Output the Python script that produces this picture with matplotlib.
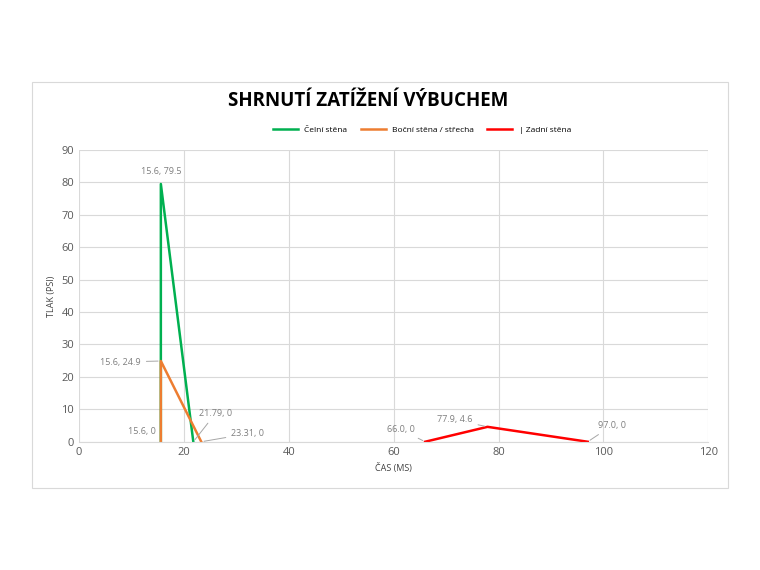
import matplotlib.pyplot as plt
from matplotlib.patches import Rectangle

plt.rcParams['font.family'] = ['Open Sans', 'DejaVu Sans']

front_x = [15.6, 15.6, 21.79]
front_y = [0, 79.5, 0]
side_x = [15.6, 15.6, 23.31]
side_y = [0, 24.9, 0]
rear_x = [66.0, 77.9, 97.0]
rear_y = [0, 4.6, 0]

fig = plt.figure(figsize=(7.6, 5.7), dpi=100)
fig.patches.append(Rectangle((0.042, 0.144), 0.916, 0.712, transform=fig.transFigure,
                             fill=False, edgecolor='#d9d9d9', lw=0.8))
ax = fig.add_axes([0.104, 0.225, 0.828, 0.512])

ax.plot(front_x, front_y, color='#00b050', lw=1.8, label='Čelní stěna')
ax.plot(side_x, side_y, color='#ed7d31', lw=1.8, label='Boční stěna / střecha')
ax.plot(rear_x, rear_y, color='#ff0000', lw=1.8, label='| Zadní stěna')

ax.set_xlim(0, 120)
ax.set_ylim(0, 90)
ax.set_xticks(range(0, 121, 20))
ax.set_yticks(range(0, 91, 10))
ax.grid(True, color='#d9d9d9', lw=0.8)
ax.set_axisbelow(True)
for s in ax.spines.values():
    s.set_visible(False)
ax.spines['bottom'].set_visible(True)
ax.spines['bottom'].set_color('#d9d9d9')
ax.tick_params(length=0, labelsize=8, colors='#595959')
ax.set_xlabel('ČAS (MS)', fontsize=6.5, color='#404040')
ax.set_ylabel('TLAK (PSI)', fontsize=6.5, color='#404040')

fig.text(0.485, 0.822, 'SHRNUTÍ ZATÍŽENÍ VÝBUCHEM', fontsize=13.5, fontweight='bold',
         ha='center', va='center')
ax.legend(loc='lower center', bbox_to_anchor=(0.545, 1.03), ncol=3, frameon=False,
          fontsize=6, handlelength=3, columnspacing=1.6)

lab = dict(fontsize=6.5, color='#7f7f7f')
arrow = dict(arrowstyle='-', color='#a6a6a6', lw=0.7)
pts = [(front_x[1], front_y[1], '15.6, 79.5', (0, 12), 'center', False),
       (side_x[1], side_y[1], '15.6, 24.9', (-20, -1), 'right', True),
       (side_x[0], side_y[0], '15.6, 0', (-5, 10), 'right', False),
       (front_x[2], front_y[2], '21.79, 0', (22, 28), 'center', True),
       (side_x[2], side_y[2], '23.31, 0', (30, 8), 'left', True),
       (rear_x[0], rear_y[0], '66.0, 0', (-10, 12), 'right', True),
       (rear_x[1], rear_y[1], '77.9, 4.6', (-15, 7), 'right', True),
       (rear_x[2], rear_y[2], '97.0, 0', (10, 16), 'left', True)]
for x, y, t, off, ha, line in pts:
    ax.annotate(t, (x, y), xytext=off, textcoords='offset pixels', ha=ha, va='center',
                arrowprops=arrow if line else None, **lab)

fig.savefig('out.png', dpi=100)
